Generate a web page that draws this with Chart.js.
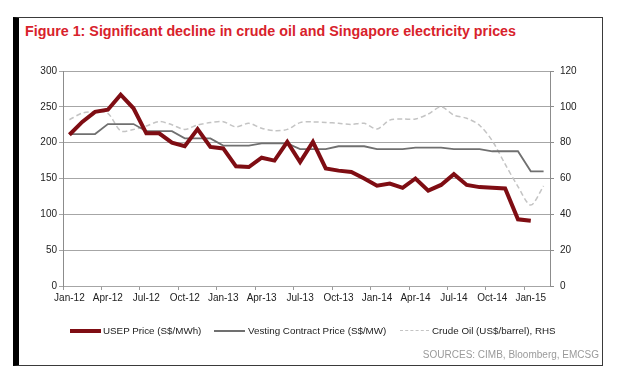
<!DOCTYPE html>
<html>
<head>
<meta charset="utf-8">
<script src="https://cdn.jsdelivr.net/npm/chart.js@4"></script>
<style>
  html, body { margin:0; padding:0; background:#fff; }
  body { width:636px; height:387px; position:relative; overflow:hidden; font-family:"Liberation Sans", Arial, sans-serif; }
  #frame { position:absolute; left:13px; top:17px; width:590px; height:349px; border:1px solid #3a3a3a; border-left:6px solid #000; box-sizing:border-box; }
  #title { position:absolute; left:25px; top:23px; font-size:14.3px; font-weight:bold; color:#d8222b; white-space:nowrap; }
  #chart-wrap { position:absolute; left:0; top:0; width:636px; height:387px; }
  .lg { position:absolute; font-size:9.8px; color:#222; white-space:nowrap; top:325px; }
  .sw { position:absolute; }
  #src { position:absolute; right:37px; top:349px; font-size:10px; color:#9a9a9a; white-space:nowrap; }
</style>
</head>
<body>
<div id="frame"></div>
<div id="title">Figure 1: Significant decline in crude oil and Singapore electricity prices</div>
<div id="chart-wrap"><canvas id="c" width="636" height="387"></canvas></div>

<div class="sw" style="left:70px;top:329px;width:31px;height:4px;background:#7f0d13;"></div>
<div class="lg" style="left:103px;">USEP Price (S$/MWh)</div>
<div class="sw" style="left:214px;top:330px;width:31px;height:2px;background:#707070;"></div>
<div class="lg" style="left:248px;">Vesting Contract Price (S$/MW)</div>
<div class="sw" style="left:400px;top:330px;width:29px;border-top:1.5px dashed #c4c4c4;"></div>
<div class="lg" style="left:432px;">Crude Oil (US$/barrel), RHS</div>
<div id="src">SOURCES: CIMB, Bloomberg, EMCSG</div>

<script>
// categorie mensili Jan-12 .. Feb-15
const months = [
  'Jan-12','Feb-12','Mar-12','Apr-12','May-12','Jun-12','Jul-12','Aug-12','Sep-12','Oct-12','Nov-12','Dec-12',
  'Jan-13','Feb-13','Mar-13','Apr-13','May-13','Jun-13','Jul-13','Aug-13','Sep-13','Oct-13','Nov-13','Dec-13',
  'Jan-14','Feb-14','Mar-14','Apr-14','May-14','Jun-14','Jul-14','Aug-14','Sep-14','Oct-14','Nov-14','Dec-14',
  'Jan-15','Feb-15'
];

// S$/MWh (LHS)
const usep = [
  211, 229, 243, 246, 267, 248, 213, 213, 200, 195, 219, 194,
  192, 167, 166, 179, 175, 201, 173, 201, 164, 161, 159, 150,
  140, 143, 137, 150, 133, 141, 156, 141, 138, 137, 136, 93,
  91, null
];

// S$/MW (LHS)
const vesting = [
  212, 212, 212, 226, 226, 226, 216, 216, 216, 206, 206, 206,
  196, 196, 196, 199, 199, 199, 191, 191, 191, 195, 195, 195,
  191, 191, 191, 193, 193, 193, 191, 191, 191, 188, 188, 188,
  160, 160
];

// US$/barrel (RHS)
const crude = [
  92.8, 96.5, 97.3, 96.4, 86.6, 87.4, 89.3, 91.8, 90.0, 87.4, 89.9, 91.2,
  91.7, 88.8, 90.8, 88.0, 86.7, 87.4, 91.2, 91.6, 91.3, 90.8, 90.2, 90.8,
  87.6, 92.6, 93.2, 93.2, 96.0, 100.0, 95.4, 93.6, 89.7, 81.0, 68.0, 55.5,
  45.2, 55.8
];

const leftTicks  = [0, 50, 100, 150, 200, 250, 300];
const rightTicks = [0, 20, 40, 60, 80, 100, 120];

const tickFont = { family: 'Liberation Sans, Arial, sans-serif', size: 10 };

new Chart(document.getElementById('c'), {
  type: 'line',
  data: {
    labels: months,
    datasets: [
      { label: 'USEP Price (S$/MWh)', data: usep, yAxisID: 'y',
        borderColor: '#7f0d13', borderWidth: 4, pointRadius: 0, tension: 0, order: 1 },
      { label: 'Vesting Contract Price (S$/MW)', data: vesting, yAxisID: 'y',
        borderColor: '#707070', borderWidth: 1.8, pointRadius: 0, tension: 0, order: 2 },
      { label: 'Crude Oil (US$/barrel), RHS', data: crude, yAxisID: 'y2',
        borderColor: '#c4c4c4', borderWidth: 1.5, borderDash: [5, 3], pointRadius: 0,
        tension: 0.3, order: 3 }
    ]
  },
  options: {
    responsive: false,
    animation: false,
    layout: { padding: { left: 0, right: 0, top: 71, bottom: 81 } },
    plugins: { legend: { display: false }, tooltip: { enabled: false } },
    scales: {
      x: {
        offset: true,
        afterFit: s => { s.height = 20; },
        border: { color: '#a6a6a6' },
        grid: {
          offset: true, drawOnChartArea: false, tickLength: 4,
          color: c => (c.index % 3 === 0 ? '#9a9a9a' : 'rgba(0,0,0,0)')
        },
        ticks: {
          autoSkip: false, maxRotation: 0, padding: 2, color: '#222', font: tickFont,
          callback: (v, i) => (i % 3 === 0 ? months[i] : '')
        }
      },
      y: {
        position: 'left', min: 0, max: 300,
        afterFit: s => { s.width = 63; },
        afterBuildTicks: s => { s.ticks = leftTicks.map(v => ({ value: v })); },
        border: { color: '#8c8c8c' },
        grid: { color: '#a6a6a6', tickLength: 4 },
        ticks: { padding: 2, color: '#222', font: tickFont }
      },
      y2: {
        position: 'right', min: 0, max: 120,
        afterFit: s => { s.width = 86; },
        afterBuildTicks: s => { s.ticks = rightTicks.map(v => ({ value: v })); },
        border: { color: '#8c8c8c' },
        grid: { drawOnChartArea: false, color: '#8c8c8c', tickLength: 4 },
        ticks: { padding: 6, color: '#222', font: tickFont }
      }
    }
  }
});
</script>
</body>
</html>
